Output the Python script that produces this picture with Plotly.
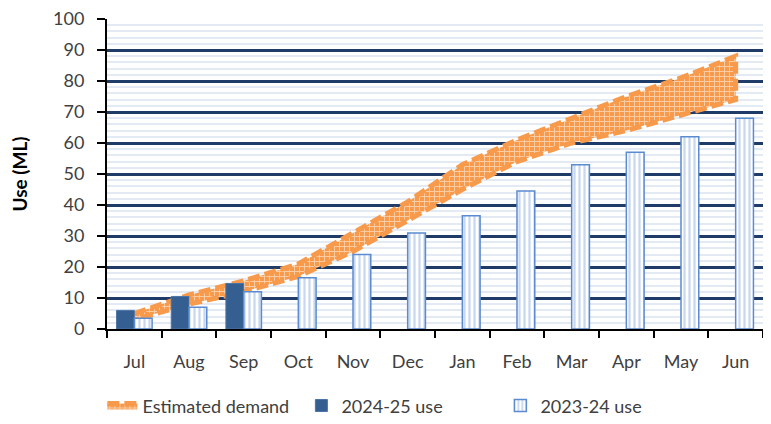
import plotly.graph_objects as go

# Data
months = ['Jul', 'Aug', 'Sep', 'Oct', 'Nov', 'Dec', 'Jan', 'Feb', 'Mar', 'Apr', 'May', 'Jun']
demand_low = [3, 8, 12, 17, 25, 35, 45, 54, 60, 64, 69, 74]
demand_high = [5, 11, 15.5, 21, 31, 41, 53, 61, 68, 75, 81, 88]
use_2024_25 = [6, 10.5, 14.7, None, None, None, None, None, None, None, None, None]
use_2023_24 = [3.5, 7, 12, 16.5, 24, 31, 36.5, 44.5, 53, 57, 62, 68]

orange = '#F79A4B'
dark_blue = '#355F91'
stripe_blue = '#8FB0E0'
edge_blue = '#5B8BD0'

fig = go.Figure()

# Estimated demand band (closed polygon: upper edge then lower edge reversed)
fig.add_trace(go.Scatter(
    x=months + months[::-1],
    y=demand_high + demand_low[::-1],
    name='Estimated demand',
    mode='lines',
    fill='toself',
    fillcolor=orange,
    fillpattern=dict(shape='+', fgcolor='white', bgcolor=orange, size=5, solidity=0.35),
    line=dict(color=orange, width=5, dash='12px,5px'),
    xaxis='x', yaxis='y',
))

# Bars go on overlaid axes so they sit on top of the band
fig.add_trace(go.Bar(
    x=months, y=use_2024_25, name='2024-25 use',
    marker=dict(color=dark_blue, line=dict(color='#4A74A8', width=1)),
    xaxis='x2', yaxis='y2',
))
fig.add_trace(go.Bar(
    x=months, y=use_2023_24, name='2023-24 use',
    marker=dict(
        color='white',
        line=dict(color=edge_blue, width=1.5),
        pattern=dict(shape='|', fgcolor=stripe_blue, bgcolor='white', size=5, solidity=0.45),
    ),
    xaxis='x2', yaxis='y2',
))

font_family = 'Lato'

# page body has an 8px margin, so the figure is sized to fit inside it
fig.update_layout(
    width=755, height=408,
    margin=dict(l=99, r=0, t=11, b=87),
    paper_bgcolor='white',
    plot_bgcolor='white',
    barmode='group',
    bargap=0.35,
    bargroupgap=0,
    font=dict(family=font_family, size=18, color='#404040'),
    showlegend=True,
    legend=dict(
        orientation='h',
        xref='container', yref='container',
        x=0.125, xanchor='left',
        y=0.025, yanchor='middle',
        font=dict(size=18, color='#404040'),
        entrywidth=154,
        traceorder='normal',
    ),
    xaxis=dict(
        type='category',
        categoryorder='array', categoryarray=months,
        range=[-0.5, 11.5],
        showline=True, linecolor='black', linewidth=2,
        ticks='outside', ticklen=7, tickwidth=2, tickcolor='black',
        tickson='boundaries',
        ticklabelstandoff=15,
        showgrid=False,
        automargin=False,
        tickfont=dict(size=18, color='#404040'),
    ),
    yaxis=dict(
        range=[0, 100],
        dtick=10,
        showline=True, linecolor='black', linewidth=2,
        ticks='outside', ticklen=8, tickwidth=2, tickcolor='black',
        ticklabelstandoff=9,
        ticklabeloverflow='allow',
        automargin='left',
        showgrid=True, gridcolor='#1F3B68', gridwidth=2.5,
        zeroline=False,
        minor=dict(dtick=2, showgrid=True, gridcolor='#E3EAF4', gridwidth=2),
        tickfont=dict(size=18, color='#404040'),
        title=dict(text='<b>Use (ML)</b>', font=dict(size=19, color='black'), standoff=23),
    ),
    xaxis2=dict(
        type='category',
        categoryorder='array', categoryarray=months,
        overlaying='x', range=[-0.5, 11.5],
        visible=False,
    ),
    yaxis2=dict(
        overlaying='y', range=[0, 100],
        visible=False,
    ),
)

fig.write_html("out.html")
